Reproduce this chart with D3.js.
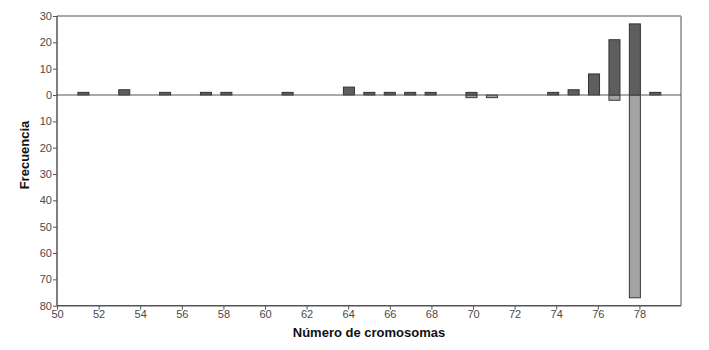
<!DOCTYPE html>
<html><head><meta charset="utf-8">
<script src="https://cdn.jsdelivr.net/npm/d3@7"></script>
<style>body{margin:0;background:#fff;}svg{display:block;}</style>
</head><body>
<svg id="c" width="709" height="350"></svg>
<script>
// Data
const chromosomes   = [51,53,55,57,58,61,64,65,66,67,68,70,71,74,75,76,77,78,79];
const upperCounts   = [ 1, 2, 1, 1, 1, 1, 3, 1, 1, 1, 1, 1, 0, 1, 2, 8,21,27, 1];
const lowerCounts   = [ 0, 0, 0, 0, 0, 0, 0, 0, 0, 0, 0, 1, 1, 0, 0, 0, 2,77, 0];
const xTicks = [50,52,54,56,58,60,62,64,66,68,70,72,74,76,78];
const yTicks = [30,20,10,0,-10,-20,-30,-40,-50,-60,-70,-80];

const svg = d3.select("#c");
const L = 57, R = 681, T = 16, B = 305.7;
const x = d3.scaleLinear().domain([50,80]).range([L,R]);
// bar placement scale (bars in the source are drawn on a slightly narrower grid)
const xb = d3.scaleLinear().domain([51,79]).range([83.4,655.3]);
const y = d3.scaleLinear().domain([-80,30]).range([B,T]);
const halfW = 0.27;

// frame top/right
svg.append("line").attr("x1",L).attr("x2",R).attr("y1",T).attr("y2",T).attr("stroke","#8a8a8a").attr("stroke-width",1.5);
svg.append("line").attr("x1",R).attr("x2",R).attr("y1",T).attr("y2",B).attr("stroke","#8a8a8a").attr("stroke-width",1.5);

// bars
const rows = chromosomes.map((c,i)=>({c, up:upperCounts[i], lo:lowerCounts[i]}));
svg.append("g").selectAll("rect").data(rows.filter(d=>d.lo>0)).join("rect")
  .attr("x", d=>xb(d.c-halfW)).attr("width", d=>xb(d.c+halfW)-xb(d.c-halfW))
  .attr("y", y(0)).attr("height", d=>y(-d.lo)-y(0))
  .attr("fill","#a3a3a3").attr("stroke","#3a3a3a").attr("stroke-width",1);
svg.append("g").selectAll("rect").data(rows.filter(d=>d.up>0)).join("rect")
  .attr("x", d=>xb(d.c-halfW)).attr("width", d=>xb(d.c+halfW)-xb(d.c-halfW))
  .attr("y", d=>y(d.up)).attr("height", d=>y(0)-y(d.up))
  .attr("fill","#5e5e5e").attr("stroke","#333").attr("stroke-width",1);

// zero line
svg.append("line").attr("x1",L).attr("x2",R).attr("y1",y(0)).attr("y2",y(0)).attr("stroke","#555").attr("stroke-width",1.2);

// axes
const yAxis = d3.axisLeft(y).tickValues(yTicks).tickFormat(d=>Math.abs(d)).tickSize(4).tickPadding(1);
const gy = svg.append("g").attr("transform",`translate(${L},0)`).call(yAxis);
const xAxis = d3.axisBottom(x).tickValues(xTicks).tickSize(4).tickPadding(1);
const gx = svg.append("g").attr("transform",`translate(0,${B})`).call(xAxis);
[gx,gy].forEach(g=>{
  g.select(".domain").attr("stroke","#555").attr("stroke-width",1.5);
  g.selectAll(".tick line").attr("stroke","#555");
  g.selectAll("text").attr("fill","#4a4a4a").style("font-family","'Liberation Sans', Arial, sans-serif").style("font-size","11px");
});
gx.select(".domain").attr("d",`M${L},0H${R}`);
gy.select(".domain").attr("d",`M0,${T}V${B}`);

// titles
svg.append("text").attr("x",369).attr("y",337).attr("text-anchor","middle")
  .style("font-family","'Liberation Sans', Arial, sans-serif").style("font-weight","bold").style("font-size","13px")
  .attr("fill","#111").text("Número de cromosomas");
svg.append("text").attr("transform","translate(29,155) rotate(-90)").attr("text-anchor","middle")
  .style("font-family","'Liberation Sans', Arial, sans-serif").style("font-weight","bold").style("font-size","13px")
  .attr("fill","#111").text("Frecuencia");
</script>
</body></html>
